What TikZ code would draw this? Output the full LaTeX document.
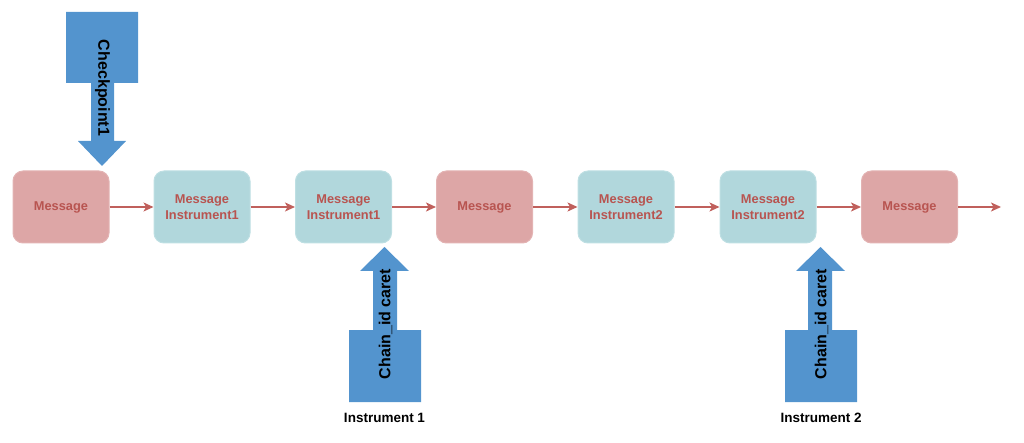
\documentclass[tikz,border=0pt]{standalone}
\usepackage{fontspec}
\setmainfont{Liberation Sans}
\usetikzlibrary{arrows.meta}
\definecolor{redfill}{HTML}{DDA6A6}
\definecolor{redline}{HTML}{E3B3B3}
\definecolor{tealfill}{HTML}{B1D7DC}
\definecolor{tealline}{HTML}{BEDFE3}
\definecolor{txtred}{HTML}{B85450}
\definecolor{arrowred}{HTML}{C0605C}
\definecolor{blueshape}{HTML}{5394CE}
\tikzset{
  msgbox/.style={rectangle, rounded corners=10pt, minimum width=96pt, minimum height=72pt,
    inner sep=0pt, align=center, text=txtred,
    font=\fontsize{12.8}{16}\selectfont\bfseries},
  redbox/.style={msgbox, fill=redfill, draw=redline, line width=1pt},
  tealbox/.style={msgbox, fill=tealfill, draw=tealline, line width=1pt},
  flow/.style={draw=arrowred, line width=1.3pt, -{Stealth[inset=2.5pt, length=10pt, width=9pt]}},
  bluearrow/.style={fill=blueshape},
  rotlabel/.style={font=\fontsize{16}{18}\selectfont\bfseries, text=black, inner sep=0pt},
  instlabel/.style={font=\fontsize{13.5}{16}\selectfont\bfseries, text=black, inner sep=0pt}
}
\begin{document}
\begin{tikzpicture}[x=1pt, y=-1pt]
\useasboundingbox (0,0) rectangle (1024,443);
% message chain
\node[redbox]  (m1) at (61,207) {\raisebox{-2pt}{Message}};
\node[tealbox] (m2) at (202,207) {Message\\Instrument1};
\node[tealbox] (m3) at (343.5,207) {Message\\Instrument1};
\node[redbox]  (m4) at (484.5,207) {\raisebox{-2pt}{Message}};
\node[tealbox] (m5) at (626,207) {Message\\Instrument2};
\node[tealbox] (m6) at (768,207) {Message\\Instrument2};
\node[redbox]  (m7) at (909.5,207) {\raisebox{-2pt}{Message}};
\coordinate (end) at (1001,207);
\draw[flow] (m1) -- (m2);
\draw[flow] (m2) -- (m3);
\draw[flow] (m3) -- (m4);
\draw[flow] (m4) -- (m5);
\draw[flow] (m5) -- (m6);
\draw[flow] (m6) -- (m7);
\draw[flow] (m7) -- (end);
% checkpoint arrow
\path[bluearrow] (66,12) -- (138,12) -- (138,83) -- (114,83) -- (114,141) -- (126,141)
  -- (102,166) -- (78,141) -- (91,141) -- (91,83) -- (66,83) -- cycle;
\node[rotlabel, rotate=-90] (cp) at (102.5,88) {Checkpoint1};
% chain id caret 1
\path[bluearrow] (349,402) -- (421,402) -- (421,330) -- (397,330) -- (397,271) -- (409,271)
  -- (384.5,247) -- (360,271) -- (373,271) -- (373,330) -- (349,330) -- cycle;
\node[rotlabel, rotate=90] (c1) at (385.5,324) {Chain\_id caret};
\node[instlabel] (i1) at (384.5,418) {Instrument 1};
% chain id caret 2
\path[bluearrow] (785,402) -- (857,402) -- (857,330) -- (832,330) -- (832,271) -- (845,271)
  -- (820.5,247) -- (796,271) -- (808,271) -- (808,330) -- (785,330) -- cycle;
\node[rotlabel, rotate=90] (c2) at (821.5,324) {Chain\_id caret};
\node[instlabel] (i2) at (821,418) {Instrument 2};
\end{tikzpicture}
\end{document}
